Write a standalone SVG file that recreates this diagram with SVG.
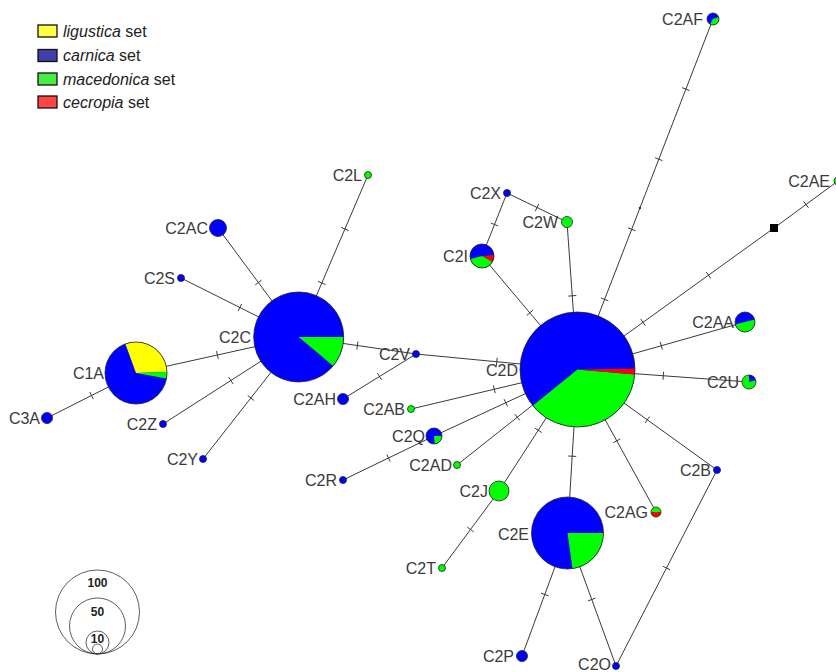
<svg xmlns="http://www.w3.org/2000/svg" width="836" height="672" viewBox="0 0 836 672">
<style>
.e{stroke:#3a3a3a;stroke-width:1;fill:none}
.t{stroke:#3a3a3a;stroke-width:1}
.o{stroke:#222;stroke-width:0.8}
.b{fill:#0000ff}
.g{fill:#00ff00}
.y{fill:#ffff00}
.r{fill:#ff0000}
.lab{font-family:"Liberation Sans",Arial,sans-serif;font-size:16px;fill:#3a3a3a;text-anchor:end}
.leg{font-family:"Liberation Sans",Arial,sans-serif;font-size:16px;fill:#222}
.sc{stroke:#333;stroke-width:0.8;fill:none}
.scl{font-family:"Liberation Sans",Arial,sans-serif;font-size:12px;font-weight:bold;fill:#222;text-anchor:middle}
</style>
<rect width="836" height="672" fill="#ffffff"/>

<g id="legend">
<rect x="38" y="25" width="19" height="12" fill="#ffff44" stroke="#111" stroke-width="1.3"/>
<text class="leg" x="63" y="37"><tspan font-style="italic">ligustica</tspan> set</text>
<rect x="38" y="49.5" width="19" height="12" fill="#4040a8" stroke="#111" stroke-width="1.3"/>
<text class="leg" x="63" y="61"><tspan font-style="italic">carnica</tspan> set</text>
<rect x="38" y="73" width="19" height="12" fill="#44ee44" stroke="#111" stroke-width="1.3"/>
<text class="leg" x="63" y="85"><tspan font-style="italic">macedonica</tspan> set</text>
<rect x="38" y="96" width="19" height="12" fill="#ff4444" stroke="#111" stroke-width="1.3"/>
<text class="leg" x="63" y="108"><tspan font-style="italic">cecropia</tspan> set</text>
</g>

<g id="scale">
<circle class="sc" cx="97.5" cy="612" r="42"/>
<circle class="sc" cx="97.5" cy="626" r="28"/>
<circle class="sc" cx="97.5" cy="642.5" r="11.5"/>
<circle class="sc" cx="97.5" cy="649" r="5"/>
<text class="scl" x="97.5" y="587">100</text>
<text class="scl" x="97.5" y="616">50</text>
<text class="scl" x="97.5" y="643">10</text>
</g>

<g id="connectors">
<line class="e" x1="47" y1="418" x2="136" y2="373"/>
<line class="t" x1="89.7" y1="391.9" x2="93.3" y2="399.1"/>
<line class="e" x1="136" y1="373" x2="298.7" y2="337"/>
<line class="t" x1="216.5" y1="351.1" x2="218.3" y2="358.9"/>
<line class="e" x1="298.7" y1="337" x2="218" y2="228"/>
<line class="t" x1="255.2" y1="284.9" x2="261.6" y2="280.1"/>
<line class="e" x1="298.7" y1="337" x2="181" y2="278"/>
<line class="t" x1="238.1" y1="311.1" x2="241.7" y2="303.9"/>
<line class="e" x1="298.7" y1="337" x2="368" y2="175"/>
<line class="t" x1="318.1" y1="281.4" x2="325.5" y2="284.6"/>
<line class="t" x1="341.2" y1="227.4" x2="348.6" y2="230.6"/>
<line class="e" x1="298.7" y1="337" x2="163" y2="424"/>
<line class="t" x1="228.7" y1="377.1" x2="233.1" y2="383.9"/>
<line class="e" x1="298.7" y1="337" x2="203" y2="459"/>
<line class="t" x1="247.7" y1="395.5" x2="254.1" y2="400.5"/>
<line class="e" x1="298.7" y1="337" x2="416" y2="354"/>
<line class="t" x1="358" y1="341.5" x2="356.8" y2="349.5"/>
<line class="e" x1="416" y1="354" x2="577.5" y2="369.5"/>
<line class="t" x1="497.2" y1="357.8" x2="496.4" y2="365.8"/>
<line class="e" x1="416" y1="354" x2="343" y2="399"/>
<line class="t" x1="377.4" y1="373.1" x2="381.6" y2="379.9"/>
<line class="e" x1="411" y1="409" x2="577.5" y2="369.5"/>
<line class="t" x1="493.4" y1="385.4" x2="495.2" y2="393.2"/>
<line class="e" x1="434" y1="436" x2="577.5" y2="369.5"/>
<line class="t" x1="504.1" y1="399.2" x2="507.5" y2="406.4"/>
<line class="e" x1="434" y1="436" x2="343" y2="480"/>
<line class="t" x1="386.8" y1="454.4" x2="390.2" y2="461.6"/>
<line class="e" x1="457" y1="465" x2="577.5" y2="369.5"/>
<line class="t" x1="514.8" y1="414.2" x2="519.8" y2="420.4"/>
<line class="e" x1="499" y1="491" x2="577.5" y2="369.5"/>
<line class="t" x1="534.9" y1="428.1" x2="541.7" y2="432.5"/>
<line class="e" x1="499" y1="491" x2="442" y2="568"/>
<line class="t" x1="467.3" y1="527.1" x2="473.7" y2="531.9"/>
<line class="e" x1="577.5" y1="369.5" x2="567.5" y2="533"/>
<line class="t" x1="568.2" y1="456" x2="576.2" y2="456.4"/>
<line class="e" x1="577.5" y1="369.5" x2="656" y2="512"/>
<line class="t" x1="620.3" y1="438.9" x2="613.3" y2="442.7"/>
<line class="e" x1="577.5" y1="369.5" x2="717" y2="470"/>
<line class="t" x1="649.6" y1="416.6" x2="645" y2="423"/>
<line class="e" x1="577.5" y1="369.5" x2="749" y2="382"/>
<line class="t" x1="663.6" y1="371.8" x2="663" y2="379.8"/>
<line class="e" x1="577.5" y1="369.5" x2="745" y2="322"/>
<line class="t" x1="660.2" y1="341.9" x2="662.4" y2="349.7"/>
<line class="e" x1="577.5" y1="369.5" x2="774" y2="228"/>
<line class="t" x1="640.7" y1="319" x2="645.3" y2="325.6"/>
<line class="t" x1="706.2" y1="271.9" x2="710.8" y2="278.5"/>
<line class="e" x1="774" y1="228" x2="838" y2="181"/>
<line class="t" x1="803.6" y1="201.3" x2="808.4" y2="207.7"/>
<line class="e" x1="577.5" y1="369.5" x2="713" y2="19"/>
<line class="t" x1="600.9" y1="297.95" x2="608.3" y2="300.85"/>
<line class="t" x1="628" y1="227.85" x2="635.4" y2="230.75"/>
<line class="t" x1="655.1" y1="157.75" x2="662.5" y2="160.65"/>
<line class="t" x1="682.2" y1="87.65" x2="689.6" y2="90.55"/>
<circle cx="639.9" cy="208" r="1.2" fill="#333"/>
<line class="e" x1="577.5" y1="369.5" x2="567" y2="222"/>
<line class="t" x1="568.3" y1="296.1" x2="576.3" y2="295.5"/>
<line class="e" x1="567" y1="222" x2="507" y2="193"/>
<line class="t" x1="535.3" y1="211.1" x2="538.7" y2="203.9"/>
<line class="e" x1="507" y1="193" x2="482" y2="256"/>
<line class="t" x1="490.8" y1="223" x2="498.2" y2="226"/>
<line class="e" x1="482" y1="256" x2="577.5" y2="369.5"/>
<line class="t" x1="532.9" y1="310.2" x2="526.7" y2="315.4"/>
<line class="e" x1="567.5" y1="533" x2="522" y2="656"/>
<line class="t" x1="541" y1="593.1" x2="548.6" y2="595.9"/>
<line class="e" x1="567.5" y1="533" x2="616" y2="666"/>
<line class="t" x1="588" y1="600.9" x2="595.5" y2="598.1"/>
<line class="e" x1="717" y1="470" x2="616" y2="666"/>
<line class="t" x1="662.9" y1="566.2" x2="670.1" y2="569.8"/>
</g>

<g id="C1A">
<circle class="b" cx="136" cy="373" r="31"/>
<path class="y" d="M136,373 L125.4,343.9 A31,31 0 0 1 167,371.9 Z"/>
<path class="g" d="M136,373 L167,371.9 A31,31 0 0 1 166.5,378.4 Z"/>
<circle class="o" cx="136" cy="373" r="31" fill="none"/>
<text class="lab" x="104" y="379">C1A</text>
</g>
<g id="C3A"><circle class="b o" cx="47" cy="418" r="5.5"/><text class="lab" x="40" y="424">C3A</text></g>
<g id="C2Z"><circle class="b o" cx="163" cy="424" r="3.5"/><text class="lab" x="157" y="430">C2Z</text></g>
<g id="C2Y"><circle class="b o" cx="203" cy="459" r="3.5"/><text class="lab" x="198" y="465">C2Y</text></g>
<g id="C2C">
<circle class="b" cx="298.7" cy="337" r="45"/>
<path class="g" d="M298.7,337 L343.7,337 A45,45 0 0 1 333.2,365.9 Z"/>
<circle class="o" cx="298.7" cy="337" r="45" fill="none"/>
<text class="lab" x="251" y="343">C2C</text>
</g>
<g id="C2AC"><circle class="b o" cx="218" cy="228" r="8.5"/><text class="lab" x="208" y="234">C2AC</text></g>
<g id="C2S"><circle class="b o" cx="181" cy="278" r="3.5"/><text class="lab" x="175" y="284">C2S</text></g>
<g id="C2L"><circle class="g o" cx="368" cy="175" r="3.5"/><text class="lab" x="362" y="181">C2L</text></g>
<g id="C2AH"><circle class="b o" cx="343" cy="399" r="5.5"/><text class="lab" x="336" y="405">C2AH</text></g>
<g id="C2V"><circle class="b o" cx="416" cy="354" r="3.5"/><text class="lab" x="410" y="360">C2V</text></g>
<g id="C2AB"><circle class="g o" cx="411" cy="409" r="3.5"/><text class="lab" x="405" y="415">C2AB</text></g>
<g id="C2Q">
<circle class="b" cx="434" cy="436" r="8"/>
<path class="g" d="M434,436 L442,436 A8,8 0 0 1 434.7,444 Z"/>
<circle class="o" cx="434" cy="436" r="8" fill="none"/>
<text class="lab" x="425" y="442">C2Q</text>
</g>
<g id="C2R"><circle class="b o" cx="343" cy="480" r="3.5"/><text class="lab" x="337" y="486">C2R</text></g>
<g id="C2AD"><circle class="g o" cx="457" cy="465" r="3.5"/><text class="lab" x="452" y="471">C2AD</text></g>
<g id="C2J"><circle class="g o" cx="499" cy="491" r="10"/><text class="lab" x="488" y="497">C2J</text></g>
<g id="C2T"><circle class="g o" cx="442" cy="568" r="3.5"/><text class="lab" x="436" y="574">C2T</text></g>
<g id="C2D">
<circle class="b" cx="577.5" cy="369.5" r="57.5"/>
<path class="g" d="M577.5,369.5 L634.8,374.5 A57.5,57.5 0 0 1 532.8,405.7 Z"/>
<path class="r" d="M577.5,369.5 L635,368.5 A57.5,57.5 0 0 1 634.8,374.5 Z"/>
<circle class="o" cx="577.5" cy="369.5" r="57.5" fill="none"/>
<text class="lab" x="518" y="376">C2D</text>
</g>
<g id="C2X"><circle class="b o" cx="507" cy="193" r="3.5"/><text class="lab" x="501" y="199">C2X</text></g>
<g id="C2W"><circle class="g o" cx="567" cy="222" r="5.5"/><text class="lab" x="558" y="228">C2W</text></g>
<g id="C2I">
<circle class="b" cx="482" cy="256" r="12"/>
<path class="r" d="M482,256 L493.95,254.95 A12,12 0 0 1 492.4,262 Z"/>
<path class="g" d="M482,256 L492.4,262 A12,12 0 0 1 470.4,259.1 Z"/>
<circle class="o" cx="482" cy="256" r="12" fill="none"/>
<text class="lab" x="468" y="262">C2I</text>
</g>
<g id="C2AF">
<circle class="b" cx="713" cy="19" r="6"/>
<path class="g" d="M713,19 L718.6,16.9 A6,6 0 0 1 710,24.2 Z"/>
<circle class="o" cx="713" cy="19" r="6" fill="none"/>
<text class="lab" x="703" y="25">C2AF</text>
</g>
<g id="SQ"><rect x="770" y="224" width="8" height="8" fill="#000"/></g>
<g id="C2AE"><circle class="g o" cx="838" cy="181" r="4"/><text class="lab" x="830" y="187">C2AE</text></g>
<g id="C2AA">
<circle class="b" cx="745" cy="322" r="10"/>
<path class="g" d="M745,322 L754.7,319.6 A10,10 0 0 1 735.3,324.6 Z"/>
<circle class="o" cx="745" cy="322" r="10" fill="none"/>
<text class="lab" x="734" y="328">C2AA</text>
</g>
<g id="C2U">
<circle class="g" cx="749" cy="382" r="7"/>
<path class="b" d="M749,382 L749,375 A7,7 0 0 1 755.76,380.19 Z"/>
<circle class="o" cx="749" cy="382" r="7" fill="none"/>
<text class="lab" x="739" y="388">C2U</text>
</g>
<g id="C2B"><circle class="b o" cx="717" cy="470" r="3.5"/><text class="lab" x="711" y="476">C2B</text></g>
<g id="C2E">
<circle class="b" cx="567.5" cy="533" r="36"/>
<path class="g" d="M567.5,533 L603.5,533 A36,36 0 0 1 572.5,568.6 Z"/>
<circle class="o" cx="567.5" cy="533" r="36" fill="none"/>
<text class="lab" x="529" y="540">C2E</text>
</g>
<g id="C2AG">
<circle class="g" cx="656" cy="512" r="5"/>
<path class="r" d="M651,512 A5,5 0 0 0 661,512 Z"/>
<circle class="o" cx="656" cy="512" r="5" fill="none"/>
<text class="lab" x="648" y="518">C2AG</text>
</g>
<g id="C2P"><circle class="b o" cx="522" cy="656" r="5.5"/><text class="lab" x="514" y="662">C2P</text></g>
<g id="C2O"><circle class="b o" cx="616" cy="666" r="3.5"/><text class="lab" x="611" y="670">C2O</text></g>
</svg>
